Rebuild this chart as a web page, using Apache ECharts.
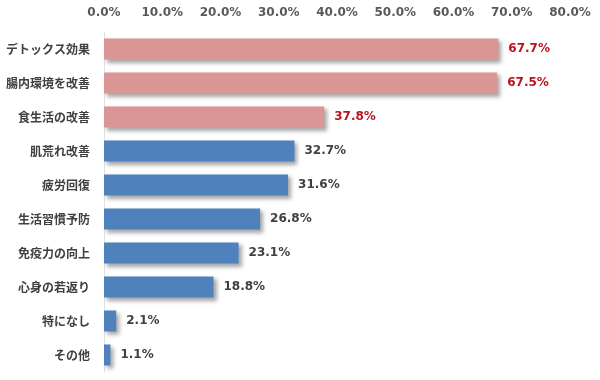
<!DOCTYPE html>
<html><head><meta charset="utf-8">
<script src="https://cdn.jsdelivr.net/npm/echarts@6/dist/echarts.min.js"></script>
<style>html,body{margin:0;padding:0;background:#fff}#c{width:600px;height:380px}</style>
</head><body><div id="c"></div>
<script>
var categories = ["デトックス効果","腸内環境を改善","食生活の改善","肌荒れ改善","疲労回復","生活習慣予防","免疫力の向上","心身の若返り","特になし","その他"];
var values = [67.7, 67.5, 37.8, 32.7, 31.6, 26.8, 23.1, 18.8, 2.1, 1.1];
var highlighted = [true, true, true, false, false, false, false, false, false, false];
var tickMax = 80, tickStep = 10;

var chart = echarts.init(document.getElementById('c'));
chart.setOption({
  animation: false,
  grid: {left: 104, right: 30, top: 32, bottom: 8},
  xAxis: {
    type: 'value', position: 'top', min: 0, max: tickMax, interval: tickStep,
    axisLabel: {formatter: function(v){return v.toFixed(1)+'%';}, color: '#595959', fontFamily: 'DejaVu Sans', fontWeight: 'bold', fontSize: 12, margin: 13},
    splitLine: {show: false}, axisLine: {show: false}, axisTick: {show: false}
  },
  yAxis: {
    type: 'category', data: categories, inverse: true,
    axisLine: {show: true, lineStyle: {color: '#e0e0e0', width: 1}},
    axisTick: {show: false},
    axisLabel: {color: '#404040', fontFamily: 'Noto Sans CJK JP', fontWeight: 'bold', fontSize: 12, margin: 14}
  },
  series: [{
    type: 'bar', barCategoryGap: '38%',
    data: values.map(function(v, i){
      return {value: v,
        itemStyle: {color: highlighted[i] ? '#d99694' : '#4f81bd'},
        label: {color: highlighted[i] ? '#b8141f' : '#404040'}};
    }),
    itemStyle: {shadowColor: 'rgba(0,0,0,0.35)', shadowBlur: 4, shadowOffsetX: 3, shadowOffsetY: 3},
    label: {show: true, position: 'right', distance: 10, formatter: function(p){return p.value.toFixed(1)+'%';}, fontFamily: 'DejaVu Sans', fontWeight: 'bold', fontSize: 12}
  }]
});
</script></body></html>
